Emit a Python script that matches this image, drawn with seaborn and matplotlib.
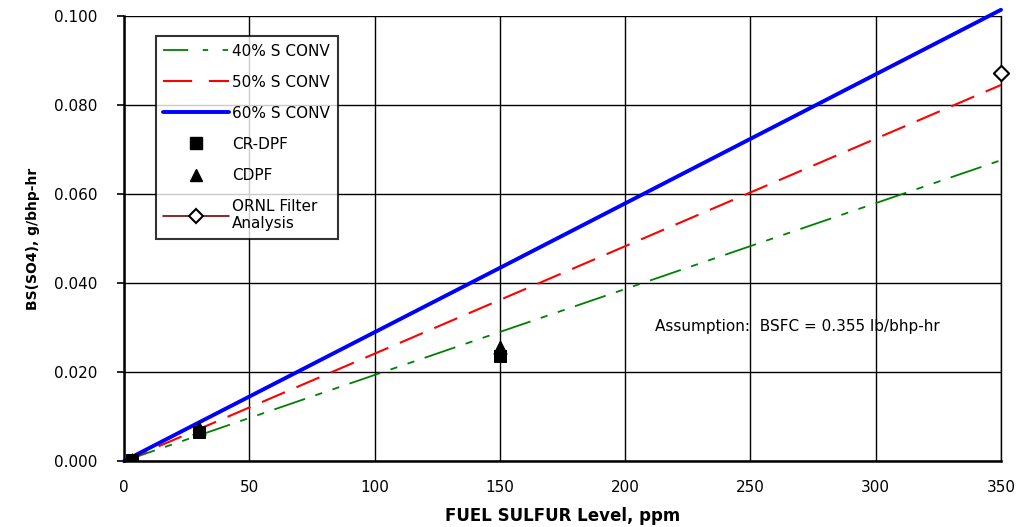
import matplotlib
matplotlib.use("Agg")
import matplotlib.pyplot as plt
import seaborn as sns
import pandas as pd
from matplotlib.lines import Line2D

sulfur = [0, 30, 150, 350]
conv40 = [0.0, 0.0058, 0.0290, 0.0676]
conv50 = [0.0, 0.0072, 0.0362, 0.0845]
conv60 = [0.0, 0.0087, 0.0434, 0.1014]

crdpf_x = [3, 30, 150]
crdpf_y = [0.0002, 0.0066, 0.0237]
cdpf_x = [3, 30, 150]
cdpf_y = [0.0003, 0.0074, 0.0256]
ornl_x = [350]
ornl_y = [0.0871]

xticks = [0, 50, 100, 150, 200, 250, 300, 350]
yticks = [0.0, 0.02, 0.04, 0.06, 0.08, 0.10]

sns.set_theme(style="white")
plt.rcParams['font.family'] = ['DejaVu Sans']
plt.rcParams.update({"text.color": "black", "axes.labelcolor": "black",
                     "xtick.color": "black", "ytick.color": "black"})

fig = plt.figure(figsize=(10.21, 5.27), dpi=100)
ax = fig.add_axes([0.1215, 0.1252, 0.8589, 0.8444])

df = pd.DataFrame({"S": sulfur, "c40": conv40, "c50": conv50, "c60": conv60})
sns.lineplot(data=df, x="S", y="c40", ax=ax, color="#008000", lw=1.3,
             linestyle=(0, (18, 6, 4, 6, 4, 6)))
sns.lineplot(data=df, x="S", y="c50", ax=ax, color="#ff0000", lw=1.5,
             linestyle=(0, (12, 6)))
sns.lineplot(data=df, x="S", y="c60", ax=ax, color="#0000ff", lw=2.8)
for ln in ax.get_lines():
    ln.set_clip_on(False)
sns.scatterplot(x=cdpf_x, y=cdpf_y, ax=ax, marker="^", s=90, color="black",
                edgecolor="black", zorder=5)
sns.scatterplot(x=crdpf_x, y=crdpf_y, ax=ax, marker="s", s=80, color="black",
                edgecolor="black", zorder=6)
sns.scatterplot(x=ornl_x, y=ornl_y, ax=ax, marker="D", s=60, color="white",
                edgecolor="black", linewidth=1.5, zorder=7, clip_on=False)

ax.set_xlim(0, 350)
ax.set_ylim(0, 0.1)
ax.set_xticks(xticks)
ax.set_yticks(yticks)
ax.set_xticklabels([str(t) for t in xticks], fontsize=11)
ax.set_yticklabels([f"{t:.3f}" for t in yticks], fontsize=11)
ax.grid(True, color="black", lw=1.0)
ax.tick_params(axis="y", direction="out", length=5, width=1.2, color="black",
               left=True, pad=14)
ax.tick_params(axis="x", length=0, pad=14)
ax.spines["top"].set_visible(False)
ax.spines["right"].set_color("black")
ax.spines["right"].set_linewidth(1.0)
for side in ["left", "bottom"]:
    ax.spines[side].set_color("black")
    ax.spines[side].set_linewidth(1.8)

ax.set_xlabel("FUEL SULFUR Level, ppm", fontsize=12, fontweight="bold", labelpad=8)
ax.set_ylabel("BS(SO4), g/bhp-hr", fontsize=10, fontweight="bold", labelpad=10)

ax.text(212, 0.0303, "Assumption:  BSFC = 0.355 lb/bhp-hr", fontsize=11, va="center")

handles = [
    Line2D([], [], color="#008000", lw=1.3, linestyle=(0, (14, 8, 3, 8, 3, 2))),
    Line2D([], [], color="#ff0000", lw=1.5, linestyle=(0, (14, 8))),
    Line2D([], [], color="#0000ff", lw=2.8),
    Line2D([], [], color="black", marker="s", ls="none", ms=8),
    Line2D([], [], color="black", marker="^", ls="none", ms=9),
    Line2D([], [], color="#800000", marker="D", ms=7, mfc="white", mec="black", mew=1.5, lw=1.2),
]
labels = ["40% S CONV", "50% S CONV", "60% S CONV", "CR-DPF", "CDPF", "ORNL Filter\nAnalysis"]
leg = ax.legend(handles, labels, loc="upper left", bbox_to_anchor=(0.036, 0.955),
                fontsize=11, frameon=True, fancybox=False, edgecolor="black",
                handlelength=4.3, handletextpad=0.2, labelspacing=1.05,
                borderpad=0.5, borderaxespad=0)
leg.get_frame().set_linewidth(1.5)
leg.set_zorder(10)

fig.savefig("out.png", dpi=100)
